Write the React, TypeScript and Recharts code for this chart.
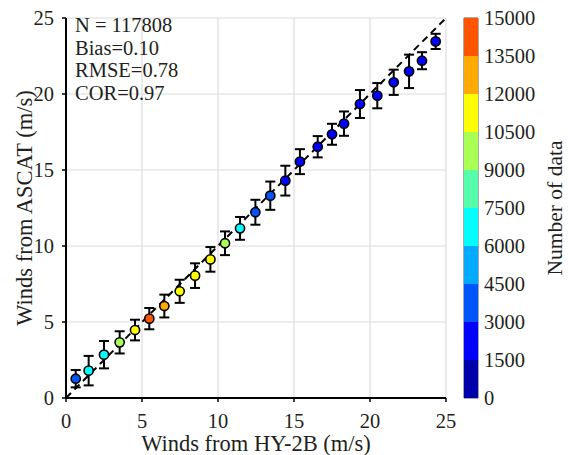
import {
	Bar,
	BarChart,
	CartesianGrid,
	ErrorBar,
	Label,
	ReferenceArea,
	Scatter,
	ScatterChart,
	XAxis,
	YAxis,
} from "recharts";

const FONT = "'Liberation Serif', 'Times New Roman', serif";

// bin means, HY-2B speed vs ASCAT speed
const hy2bWind = [
	0.64, 1.49, 2.5, 3.53, 4.54, 5.48, 6.47, 7.48, 8.49, 9.5, 10.46, 11.45, 12.46,
	13.44, 14.43, 15.39, 16.56, 17.5, 18.29, 19.34, 20.48, 21.56, 22.57, 23.42,
	24.32,
];
const ascatWind = [
	1.27, 1.8, 2.85, 3.66, 4.47, 5.22, 6.05, 7.02, 8.05, 9.12, 10.18, 11.16,
	12.22, 13.31, 14.3, 15.55, 16.53, 17.35, 18.05, 19.34, 19.89, 20.77, 21.49,
	22.19, 23.46,
];
const ascatStd = [
	0.57, 0.97, 0.9, 0.73, 0.68, 0.7, 0.75, 0.76, 0.81, 0.81, 0.78, 0.75, 0.82,
	0.93, 0.98, 0.82, 0.7, 0.69, 0.8, 0.92, 0.83, 0.83, 1.1, 0.56, 0.5,
];
const binCounts = [
	4000, 6600, 6400, 9600, 11000, 14200, 12900, 11600, 11300, 10900, 9400, 6300,
	4200, 3700, 2900, 2600, 2400, 2200, 2000, 1900, 1800, 1700, 1700, 1600, 1600,
];

const axisTicks = [0, 5, 10, 15, 20, 25];
const cbTicks = [
	0, 1500, 3000, 4500, 6000, 7500, 9000, 10500, 12000, 13500, 15000,
];
const cbColors = [
	"#0000AA",
	"#0000FF",
	"#0055FF",
	"#00AAFF",
	"#00FFFF",
	"#55FFAA",
	"#AAFF55",
	"#FFFF00",
	"#FFAA00",
	"#FF5500",
];
const statLines = ["N = 117808", "Bias=0.10", "RMSE=0.78", "COR=0.97"];
const oneToOne = [
	{ x: 0, y: 0 },
	{ x: 25, y: 25 },
];

const colorFor = (n: number) => {
	const i = cbTicks.findIndex((t, k) => k > 0 && n < t);
	return cbColors[i < 1 ? cbColors.length - 1 : i - 1];
};

const points = hy2bWind.map((x, i) => ({
	x,
	y: ascatWind[i],
	err: ascatStd[i],
	n: binCounts[i],
}));

const cbRow: Record<string, any> = { name: "cb" };
cbColors.forEach((_, i) => {
	cbRow[`s${i}`] = cbTicks[i + 1] - cbTicks[i];
});

const tickStyle = { fill: "#231f20", fontSize: 20.5, fontFamily: FONT };
const labelStyle = {
	fill: "#231f20",
	fontSize: 22.5,
	fontFamily: FONT,
	textAnchor: "middle" as const,
};

const Dot = (props: any) => (
	<circle
		cx={props.cx}
		cy={props.cy}
		r={4.6}
		fill={colorFor(props.payload.n)}
		stroke="#000"
		strokeWidth={1.6}
	/>
);

export default function App() {
	return (
		<div
			style={{
				position: "absolute",
				left: 0,
				top: 0,
				width: 568,
				height: 455,
				background: "#fff",
			}}
		>
			<div style={{ position: "absolute", left: 0, top: 0 }}>
				<ScatterChart
					width={568}
					height={455}
					margin={{ top: 18, right: 122, left: 6, bottom: 0 }}
				>
					<CartesianGrid stroke="#dcdcdc" strokeWidth={1.2} />
					<XAxis
						type="number"
						dataKey="x"
						domain={[0, 25]}
						ticks={axisTicks}
						height={57}
						allowDataOverflow
						axisLine={{ stroke: "#000", strokeWidth: 2 }}
						tickLine={{ stroke: "#000", strokeWidth: 1.5 }}
						tickSize={4}
						tickMargin={11}
						tick={tickStyle}
					>
						<Label
							value="Winds from HY-2B (m/s)"
							position="insideBottom"
							offset={4}
							style={labelStyle}
						/>
					</XAxis>
					<YAxis
						type="number"
						dataKey="y"
						domain={[0, 25]}
						ticks={axisTicks}
						width={60}
						allowDataOverflow
						axisLine={{ stroke: "#000", strokeWidth: 2 }}
						tickLine={{ stroke: "#000", strokeWidth: 1.5 }}
						tickSize={4}
						tickMargin={8}
						tick={tickStyle}
					>
						<Label
							value="Winds from ASCAT (m/s)"
							angle={-90}
							position="insideLeft"
							offset={18}
							style={labelStyle}
						/>
					</YAxis>
					<Scatter
						data={oneToOne}
						line={{ stroke: "#000", strokeWidth: 2, strokeDasharray: "7 5" }}
						shape={() => <g />}
						isAnimationActive={false}
					/>
					<Scatter data={points} shape={Dot} isAnimationActive={false}>
						<ErrorBar
							dataKey="err"
							direction="y"
							width={5}
							stroke="#000"
							strokeWidth={2}
						/>
					</Scatter>
				</ScatterChart>
			</div>
			<div style={{ position: "absolute", left: 0, top: 0 }}>
				<BarChart
					width={568}
					height={455}
					data={[cbRow]}
					barCategoryGap={0}
					margin={{ top: 18, right: 0, left: 464, bottom: 57 }}
				>
					<XAxis dataKey="name" hide />
					<YAxis
						orientation="right"
						domain={[0, 15000]}
						ticks={cbTicks}
						width={90}
						axisLine={false}
						tickSize={0}
						tickMargin={6}
						tick={tickStyle}
					>
						<Label
							value="Number of data"
							angle={-90}
							position="insideRight"
							offset={14}
							style={{ ...labelStyle, fontSize: 21.5 }}
						/>
					</YAxis>
					{cbColors.map((c, i) => (
						<Bar
							key={c}
							dataKey={`s${i}`}
							stackId="cb"
							fill={c}
							isAnimationActive={false}
						/>
					))}
					<ReferenceArea
						x1="cb"
						x2="cb"
						y1={0}
						y2={15000}
						fill="none"
						stroke="#555"
						strokeWidth={1}
					/>
				</BarChart>
			</div>
			<div
				style={{
					position: "absolute",
					left: 75,
					top: 14,
					fontFamily: FONT,
					fontSize: 20.5,
					lineHeight: "22.7px",
					color: "#231f20",
				}}
			>
				{statLines.map((s) => (
					<div key={s}>{s}</div>
				))}
			</div>
		</div>
	);
}
